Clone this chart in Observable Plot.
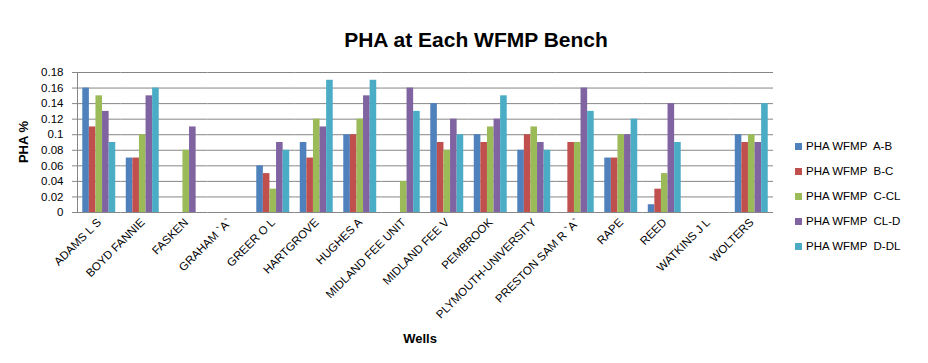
<!DOCTYPE html>
<html>
<head>
<meta charset="utf-8">
<script src="https://cdn.jsdelivr.net/npm/d3@7"></script>
<script src="https://cdn.jsdelivr.net/npm/@observablehq/plot@0.6"></script>
<style>
  body { margin: 0; background: #fff; }
  #wrap { position: relative; width: 928px; height: 363px; font-family: "Liberation Sans", Arial, sans-serif; }
  #chart { position: absolute; left: 0; top: 0; }
  #chart svg { color: #868686; }
  #chart svg text { fill: #000; }
  .title { position: absolute; left: 0; width: 952px; top: 28px; text-align: center; font-size: 21px; font-weight: bold; color: #000; }
  .ylab { position: absolute; left: 23px; top: 142px; transform: translate(-50%, -50%) rotate(-90deg); font-size: 13px; font-weight: bold; white-space: nowrap; }
  .xlab { position: absolute; left: 420px; top: 338px; transform: translate(-50%, -50%); font-size: 13px; font-weight: bold; }
  .legend { position: absolute; left: 795px; top: 140px; }
  .item { height: 25px; display: flex; align-items: flex-start; font-size: 11.5px; white-space: pre; color: #000; }
  .sw { width: 7px; height: 7px; margin-top: 3px; margin-right: 4px; }
</style>
</head>
<body>
<div id="wrap">
  <div id="chart"></div>
  <div class="title">PHA at Each WFMP Bench</div>
  <div class="ylab">PHA %</div>
  <div class="xlab">Wells</div>
  <div class="legend" id="legend"></div>
</div>
<script>
const wells = ["ADAMS L S", "BOYD FANNIE", "FASKEN", "GRAHAM `A`", "GREER O L", "HARTGROVE", "HUGHES A", "MIDLAND FEE UNIT", "MIDLAND FEE V", "PEMBROOK", "PLYMOUTH-UNIVERSITY", "PRESTON SAM R `A`", "RAPE", "REED", "WATKINS J L", "WOLTERS"];
const series = ["PHA WFMP  A-B", "PHA WFMP  B-C", "PHA WFMP  C-CL", "PHA WFMP  CL-D", "PHA WFMP  D-DL"];
const colors = ["#4F81BD", "#C0504D", "#9BBB59", "#8064A2", "#4BACC6"];
const valuesAB   = [0.16, 0.07, null, null, 0.06, 0.09, 0.10, null, 0.14, 0.10, 0.08, null, 0.07, 0.01, null, 0.10];
const valuesBC   = [0.11, 0.07, null, null, 0.05, 0.07, 0.10, null, 0.09, 0.09, 0.10, 0.09, 0.07, 0.03, null, 0.09];
const valuesCCL  = [0.15, 0.10, 0.08, null, 0.03, 0.12, 0.12, 0.04, 0.08, 0.11, 0.11, 0.09, 0.10, 0.05, null, 0.10];
const valuesCLD  = [0.13, 0.15, 0.11, null, 0.09, 0.11, 0.15, 0.16, 0.12, 0.12, 0.09, 0.16, 0.10, 0.14, null, 0.09];
const valuesDDL  = [0.09, 0.16, null, null, 0.08, 0.17, 0.17, 0.13, 0.10, 0.15, 0.08, 0.13, 0.12, 0.09, null, 0.14];
const yTicks = [0, 0.02, 0.04, 0.06, 0.08, 0.1, 0.12, 0.14, 0.16, 0.18];

const allValues = [valuesAB, valuesBC, valuesCCL, valuesCLD, valuesDDL];
const data = [];
wells.forEach((w, i) => series.forEach((s, j) => data.push({well: w, series: s, value: allValues[j][i]})));

const chart = Plot.plot({
  width: 928,
  height: 363,
  marginLeft: 77,
  marginRight: 155,
  marginTop: 72,
  marginBottom: 151,
  style: {fontFamily: "'Liberation Sans', Arial, sans-serif", fontSize: "11.5px", background: "transparent"},
  fx: {domain: wells, padding: 0, round: false, label: null, tickRotate: -45, tickSize: 0, tickPadding: 8, axis: "bottom"},
  x: {domain: series, axis: null, round: false, paddingInner: 0, paddingOuter: 0.8},
  y: {domain: [0, 0.18], ticks: yTicks, tickFormat: d => String(Math.round(d * 100) / 100), label: null, tickSize: 5, tickPadding: 9, line: true},
  color: {domain: series, range: colors},
  marks: [
    Plot.ruleY(yTicks.slice(1), {stroke: "#868686", strokeWidth: 1}),
    Plot.barY(data, {fx: "well", x: "series", y: "value", fill: "series", insetLeft: 0, insetRight: 0}),
    Plot.ruleY([0], {stroke: "#868686", strokeWidth: 1})
  ]
});
document.getElementById("chart").appendChild(chart);

const legend = document.getElementById("legend");
series.forEach((s, j) => {
  const item = document.createElement("div");
  item.className = "item";
  const sw = document.createElement("div");
  sw.className = "sw";
  sw.style.background = colors[j];
  const t = document.createElement("span");
  t.textContent = s;
  item.appendChild(sw);
  item.appendChild(t);
  legend.appendChild(item);
});
</script>
</body>
</html>
